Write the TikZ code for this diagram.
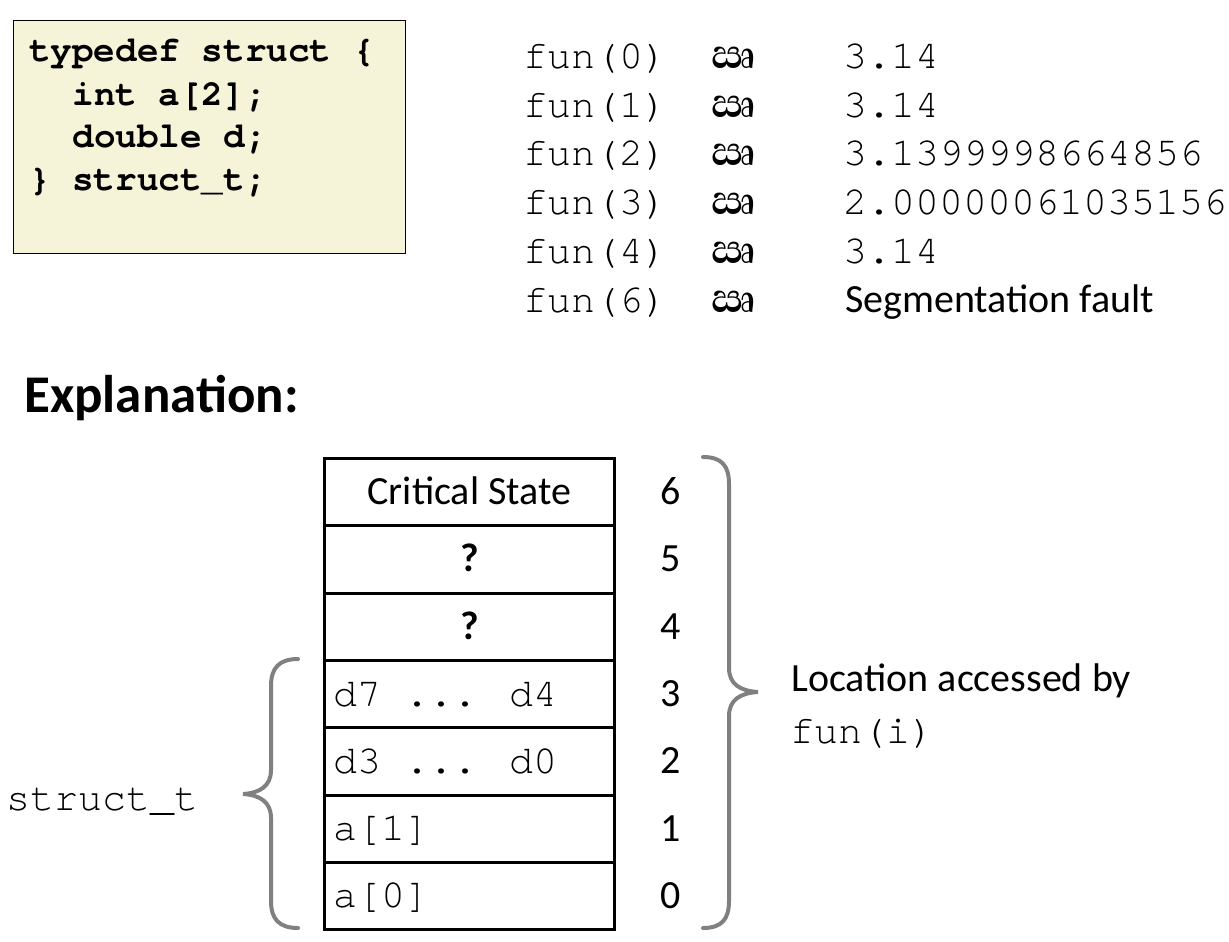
\documentclass[tikz,border=0pt]{standalone}
\usepackage{fontspec}
\setmainfont{Carlito}
\newfontfamily\mono{TeX Gyre Cursor}
\newfontfamily\sinhf[Script=Sinhala]{Abhaya Libre}
\definecolor{codefill}{RGB}{246,244,216}
\definecolor{bracegray}{RGB}{128,128,128}
\tikzset{
  monotxt/.style={font=\mono\fontsize{40}{40}\selectfont, inner sep=0pt},
  codetxt/.style={font=\mono\bfseries\fontsize{36}{36}\selectfont, inner sep=0pt, anchor=base west},
  caltxt/.style={font=\fontsize{40}{40}\selectfont, inner sep=0pt},
  arrowtxt/.style={font=\sinhf\bfseries\fontsize{52}{52}\selectfont, inner sep=0pt, anchor=base},
  cell/.style={draw, line width=3pt, minimum width=290pt, minimum height=67.3pt, inner sep=0pt, anchor=north west},
  bracepath/.style={draw=bracegray, line width=4pt, line cap=round},
}
\begin{document}
\begin{tikzpicture}[x=1pt,y=-1pt]
\useasboundingbox (0,0) rectangle (1229,942);
% code box
\node[draw, line width=1pt, fill=codefill, minimum width=392pt, minimum height=233pt, anchor=north west, inner sep=0pt] (codebox) at (13,20) {};
\node[codetxt] (c1) at (29,61.7) {typedef struct \{};
\node[codetxt] (c2) at (29,105) {\ \ int a[2];};
\node[codetxt] (c3) at (29,147.7) {\ \ double d;};
\node[codetxt] (c4) at (29,190) {\} struct\_t;};
% results
\foreach \i/\n/\v in {0/0/3.14,1/1/3.14,2/2/3.1399998664856,3/3/2.00000061035156,4/4/3.14}{
  \node[monotxt, anchor=base west] (f\i) at (523,68.3+48.8*\i) {fun(\n)};
  \node[arrowtxt] (a\i) at (734,68.3+48.8*\i) {ඍ};
  \node[monotxt, anchor=base west] (v\i) at (843,68.3+48.8*\i) {\v};
}
\node[monotxt, anchor=base west] (f5) at (523,312.3) {fun(6)};
\node[arrowtxt] (a5) at (734,312.3) {ඍ};
\node[caltxt, anchor=base west] (v5) at (845,312.3) {Segmentation fault};
% Explanation
\node[font=\bfseries\fontsize{53}{53}\selectfont, inner sep=0pt, anchor=base west] (expl) at (24,412) {Explanation:};
% table
\foreach \k/\t in {6/457,5/524.3,4/591.6,3/658.9,2/726.2,1/793.5,0/860.8}{
  \node[cell] (r\k) at (323,\t) {};
  \node[caltxt, anchor=base] (n\k) at ([yshift=-12.5pt]r\k.center -| 671,0) {\k};
}
\node[caltxt, anchor=base] (t6) at ([yshift=-12.5pt]r6.center) {Critical State};
\node[caltxt, anchor=base, font=\bfseries\fontsize{40}{40}\selectfont] (t5) at ([yshift=-12.5pt]r5.center) {?};
\node[caltxt, anchor=base, font=\bfseries\fontsize{40}{40}\selectfont] (t4) at ([yshift=-12.5pt]r4.center) {?};
\node[monotxt, anchor=base west] (t3) at ([xshift=10pt,yshift=-12pt]r3.west) {d7 ... d4};
\node[monotxt, anchor=base west] (t2) at ([xshift=10pt,yshift=-12pt]r2.west) {d3 ... d0};
\node[monotxt, anchor=base west] (t1) at ([xshift=10pt,yshift=-12pt]r1.west) {a[1]};
\node[monotxt, anchor=base west] (t0) at ([xshift=10pt,yshift=-12pt]r0.west) {a[0]};
% braces
\coordinate (lbt) at (298,659);
\coordinate (lbb) at (298,928);
\coordinate (lbtip) at (243,794);
\draw[bracepath] (lbt) .. controls (279,659) and (271,668) .. (271,686) -- (271,770)
  .. controls (271,786) and (260,793) .. (lbtip)
  .. controls (260,795) and (271,802) .. (271,818) -- (271,901)
  .. controls (271,919) and (279,928) .. (lbb);
\coordinate (rbt) at (703,457);
\coordinate (rbb) at (703,928);
\coordinate (rbtip) at (758,692);
\draw[bracepath] (rbt) .. controls (722,457) and (729,466) .. (729,484) -- (729,668)
  .. controls (729,684) and (740,691) .. (rbtip)
  .. controls (740,693) and (729,700) .. (729,716) -- (729,901)
  .. controls (729,919) and (722,928) .. (rbb);
\node[caltxt, anchor=base west] (loc) at (791,691.7) {Location accessed by};
\node[monotxt, anchor=base west] (funi) at (790,743) {fun(i)};
\node[monotxt, anchor=base west] (st) at (6,810) {struct\_t};
\end{tikzpicture}
\end{document}
